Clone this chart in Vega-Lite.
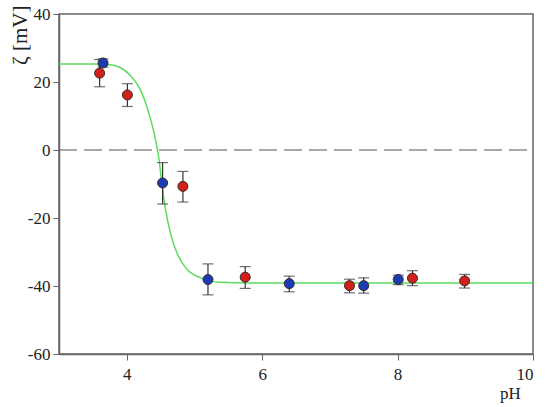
{
  "$schema": "https://vega.github.io/schema/vega-lite/v6.json",
  "width": 474,
  "height": 340,
  "autosize": "none",
  "padding": {"left": 59, "top": 14, "right": 17, "bottom": 53},
  "background": "white",
  "config": {
    "view": {"stroke": "#666", "strokeWidth": 1.5},
    "axis": {
      "grid": false,
      "labelFont": "Liberation Serif",
      "labelFontSize": 17,
      "labelColor": "#222",
      "titleFont": "Liberation Serif",
      "titleFontSize": 16,
      "titleFontWeight": "normal",
      "titleColor": "#222",
      "domainColor": "#666",
      "domainWidth": 1.5,
      "tickColor": "#666",
      "tickSize": 6
    }
  },
  "datasets": {
    "pts": [
      {"series": "B", "ph": 3.65, "zeta": 25.6, "lo": 24.4, "hi": 26.8},
      {"series": "B", "ph": 4.53, "zeta": -9.7, "lo": -15.9, "hi": -3.7},
      {"series": "B", "ph": 5.20, "zeta": -38.1, "lo": -42.6, "hi": -33.5},
      {"series": "B", "ph": 6.40, "zeta": -39.3, "lo": -41.7, "hi": -37.1},
      {"series": "B", "ph": 7.50, "zeta": -39.9, "lo": -42.1, "hi": -37.6},
      {"series": "B", "ph": 8.01, "zeta": -38.1, "lo": -39.6, "hi": -36.8},
      {"series": "A", "ph": 3.60, "zeta": 22.6, "lo": 18.6, "hi": 26.6},
      {"series": "A", "ph": 4.01, "zeta": 16.2, "lo": 12.8, "hi": 19.5},
      {"series": "A", "ph": 4.83, "zeta": -10.7, "lo": -15.3, "hi": -6.3},
      {"series": "A", "ph": 5.75, "zeta": -37.4, "lo": -40.7, "hi": -34.3},
      {"series": "A", "ph": 7.29, "zeta": -39.9, "lo": -42.0, "hi": -38.0},
      {"series": "A", "ph": 8.22, "zeta": -37.7, "lo": -39.9, "hi": -35.5},
      {"series": "A", "ph": 8.99, "zeta": -38.5, "lo": -40.6, "hi": -36.6}
    ],
    "curve": [
      {"ph": 3.0, "zeta": 25.3},
      {"ph": 3.5, "zeta": 25.3},
      {"ph": 3.76, "zeta": 25.1},
      {"ph": 3.91, "zeta": 24.2},
      {"ph": 4.06, "zeta": 21.8},
      {"ph": 4.21, "zeta": 17.4},
      {"ph": 4.33, "zeta": 10.6},
      {"ph": 4.43, "zeta": 2.6},
      {"ph": 4.48, "zeta": -3.2},
      {"ph": 4.52, "zeta": -10.1},
      {"ph": 4.57, "zeta": -17.0},
      {"ph": 4.65, "zeta": -24.8},
      {"ph": 4.75, "zeta": -30.7},
      {"ph": 4.89, "zeta": -35.1},
      {"ph": 5.09, "zeta": -37.6},
      {"ph": 5.38, "zeta": -38.9},
      {"ph": 5.8, "zeta": -39.1},
      {"ph": 10.0, "zeta": -39.1}
    ],
    "zero": [{"a": 3, "b": 10, "z": 0}]
  },
  "layer": [
    {
      "data": {"name": "zero"},
      "mark": {"type": "rule", "color": "#555", "strokeWidth": 1.2, "strokeDash": [18, 7]},
      "encoding": {
        "x": {"field": "a", "type": "quantitative",
          "scale": {"domain": [3, 10], "nice": false, "zero": false},
          "axis": {"values": [4, 6, 8, 10], "format": "d", "title": "pH", "titleX": 451, "titleY": 39, "titleBaseline": "middle", "titleAlign": "center", "labelPadding": 6, "titleFontSize": 17}},
        "x2": {"field": "b"},
        "y": {"field": "z", "type": "quantitative",
          "scale": {"domain": [-60, 40], "nice": false, "zero": false},
          "axis": {"values": [-60, -40, -20, 0, 20, 40], "labelExpr": "datum.value < 0 ? '-' + abs(datum.value) : '' + datum.value", "title": "ζ [mV]", "titleX": -39, "titleY": -9, "titleAlign": "right", "titleBaseline": "middle", "titleAngle": -90, "labelPadding": 3, "titleFontSize": 21}}
      }
    },
    {
      "data": {"name": "curve"},
      "mark": {"type": "line", "color": "#5fdc5f", "strokeWidth": 1.5, "interpolate": "monotone"},
      "encoding": {
        "x": {"field": "ph", "type": "quantitative"},
        "y": {"field": "zeta", "type": "quantitative"}
      }
    },
    {
      "data": {"name": "pts"},
      "mark": {"type": "rule", "color": "#333", "strokeWidth": 1.2},
      "encoding": {
        "x": {"field": "ph", "type": "quantitative"},
        "y": {"field": "lo", "type": "quantitative"},
        "y2": {"field": "hi"}
      }
    },
    {
      "data": {"name": "pts"},
      "mark": {"type": "tick", "orient": "horizontal", "color": "#333", "size": 11, "thickness": 1.2},
      "encoding": {
        "x": {"field": "ph", "type": "quantitative"},
        "y": {"field": "lo", "type": "quantitative"}
      }
    },
    {
      "data": {"name": "pts"},
      "mark": {"type": "tick", "orient": "horizontal", "color": "#333", "size": 11, "thickness": 1.2},
      "encoding": {
        "x": {"field": "ph", "type": "quantitative"},
        "y": {"field": "hi", "type": "quantitative"}
      }
    },
    {
      "data": {"name": "pts"},
      "mark": {"type": "point", "filled": true, "shape": "circle", "size": 100, "stroke": "#3a2a2a", "strokeWidth": 1, "opacity": 1},
      "encoding": {
        "x": {"field": "ph", "type": "quantitative"},
        "y": {"field": "zeta", "type": "quantitative"},
        "fill": {"field": "series", "type": "nominal", "scale": {"domain": ["A", "B"], "range": ["#d11f1a", "#1b3bb2"]}, "legend": null}
      }
    }
  ]
}
